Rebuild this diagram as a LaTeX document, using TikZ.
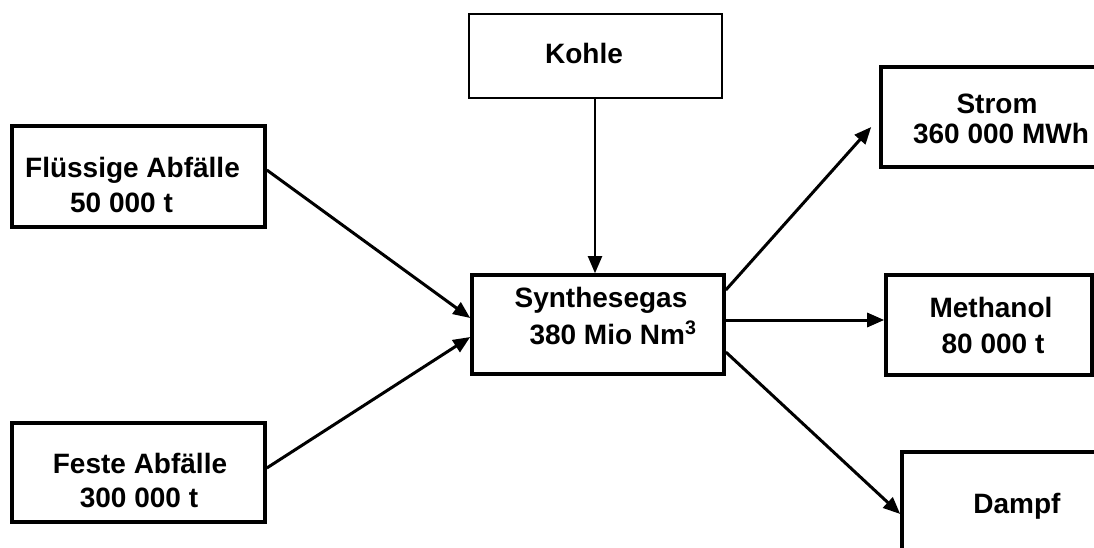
\documentclass[tikz,border=0pt]{standalone}
\usepackage{fontspec}
\setmainfont{Liberation Sans}
\usetikzlibrary{arrows.meta}
\begin{document}
\begin{tikzpicture}[x=1pt,y=-1pt,
  box/.style={draw=black,line width=3.6pt,rectangle,inner sep=0pt,fill=white},
  thinbox/.style={draw=black,line width=2.2pt,rectangle,inner sep=0pt},
  txt/.style={anchor=base,inner sep=0pt,font=\fontsize{28}{34}\selectfont\bfseries},
  conn/.style={line width=3pt,-{Triangle[length=17pt,width=14pt]}},
  thinconn/.style={line width=2pt,-{Triangle[length=17pt,width=14pt]}}]
\useasboundingbox (0,0) rectangle (1094,547);
\clip (0,0) rectangle (1094,547);
% boxes
\node[box,minimum width=253pt,minimum height=101pt] (fl) at (138.5,176.5) {};
\node[thinbox,minimum width=253pt,minimum height=84pt] (kohle) at (595.5,56) {};
\node[box,minimum width=230pt,minimum height=100pt] (strom) at (996,117) {};
\node[box,minimum width=252pt,minimum height=99pt] (syn) at (598,324.5) {};
\node[box,minimum width=206pt,minimum height=100pt] (meth) at (989,325) {};
\node[box,minimum width=210pt,minimum height=120pt] (dampf) at (1007,512) {};
\node[box,minimum width=253pt,minimum height=99pt] (feste) at (138.5,472.5) {};
% texts
\node[txt] (t1) at (132.5,177) {Flüssige Abfälle};
\node[txt] (t2) at (121.5,212) {50 000 t};
\node[txt] (t3) at (584,63) {Kohle};
\node[txt] (t4) at (997,113) {Strom};
\node[txt] (t5) at (1001,143) {360 000 MWh};
\node[txt] (t6) at (601,307) {Synthesegas};
\node[txt] (t7) at (613,344) {380 Mio Nm\textsuperscript{3}};
\node[txt] (t8) at (991,317) {Methanol};
\node[txt] (t9) at (993,353) {80 000 t};
\node[txt] (t10) at (1017,513) {Dampf};
\node[txt] (t11) at (140,473) {Feste Abfälle};
\node[txt] (t12) at (139,507) {300 000 t};
% connectors
\draw[conn] ([yshift=6.5pt]fl.east) -- ([yshift=6.5pt]syn.west);
\draw[conn] ([yshift=4.5pt]feste.east) -- ([yshift=-12.5pt]syn.west);
\draw[thinconn] ([xshift=-0.5pt]kohle.south) -- ([xshift=-3pt]syn.north);
\draw[conn] ([yshift=34.5pt]syn.east) -- ([xshift=-8pt,yshift=-10pt]strom.west);
\draw[conn] ([yshift=4.5pt]syn.east) -- ([yshift=4.5pt]syn.east -| meth.west);
\draw[conn] ([yshift=-27.5pt]syn.east) -- ([yshift=-2pt]dampf.west);
\end{tikzpicture}
\end{document}
